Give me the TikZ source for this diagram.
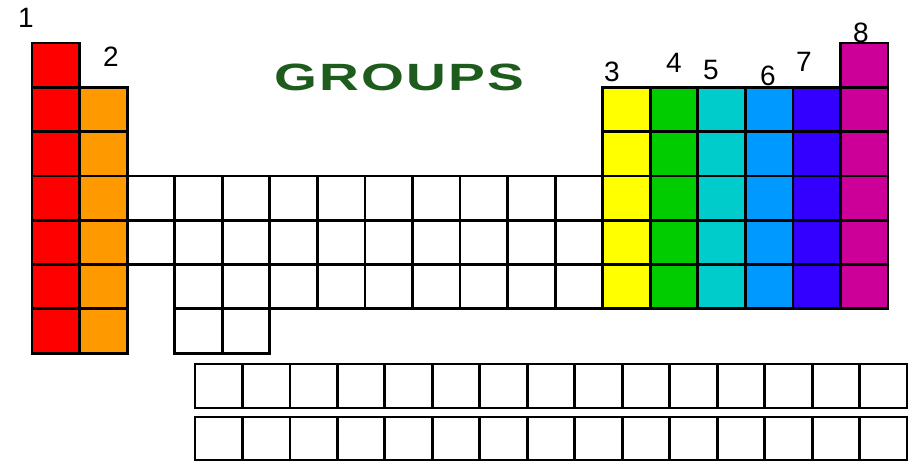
\documentclass[tikz,border=0pt]{standalone}
\usepackage{fontspec}
\setmainfont{Liberation Sans}
\newfontfamily\titlefont[LetterSpace=4]{Liberation Sans}
\definecolor{grpred}{HTML}{FF0000}
\definecolor{grporange}{HTML}{FF9900}
\definecolor{grpyellow}{HTML}{FFFF00}
\definecolor{grpgreen}{HTML}{00CC00}
\definecolor{grpcyan}{HTML}{00CCCC}
\definecolor{grpblue}{HTML}{0099FF}
\definecolor{grpindigo}{HTML}{3300FF}
\definecolor{grpmagenta}{HTML}{CC0099}
\definecolor{titlegreen}{HTML}{1E5C1E}
\tikzset{
	cell/.style = {draw = black, line width = 2.8pt},
	digit/.style = {font = \fontsize{28}{30}\selectfont},
}
\def\cw{47.56}
\def\ch{44.3}
\begin{document}
\begin{tikzpicture}[x = 1pt, y = -1pt]
		\useasboundingbox (0,0) rectangle (913,463);
		\foreach \c/\ra/\rb/\fc in {1/1/7/grpred, 2/2/7/grporange,
			4/4/7/white, 5/4/7/white, 6/4/6/white, 7/4/6/white, 8/4/6/white,
			9/4/6/white, 10/4/6/white, 11/4/6/white, 12/4/6/white,
			13/2/6/grpyellow, 14/2/6/grpgreen, 15/2/6/grpcyan,
			16/2/6/grpblue, 17/2/6/grpindigo, 18/1/6/grpmagenta}
			\foreach \r in {\ra,...,\rb}
				\path [cell, fill=\fc] ({32+(\c-1)*\cw},{43+(\r-1)*\ch}) rectangle ++(\cw,\ch);
		\path [cell] (127.1,175.9) -- ++(\cw,0);
		\path [cell] (127.1,220.2) -- ++(\cw,0);
		\path [cell] (127.1,264.5) -- ++(\cw,0);
		\foreach \c in {0,...,14} {
			\path [cell] ({195+\c*47.47},364) rectangle ++(47.47,44);
			\path [cell] ({195+\c*47.47},417) rectangle ++(47.47,43);
		}
		\node [digit] (g1) at (26,18) {1};
		\node [digit] (g2) at (111,57) {2};
		\node [digit] (g3) at (612,72) {3};
		\node [digit] (g4) at (674,63) {4};
		\node [digit] (g5) at (711,70) {5};
		\node [digit] (g6) at (768,76) {6};
		\node [digit] (g7) at (804,62) {7};
		\node [digit] (g8) at (861,33) {8};
		\node [xscale=1.45, text=titlegreen, font=\titlefont\bfseries\fontsize{38}{40}\selectfont] (title) at (399,77) {GROUPS};
	\end{tikzpicture}
\end{document}
